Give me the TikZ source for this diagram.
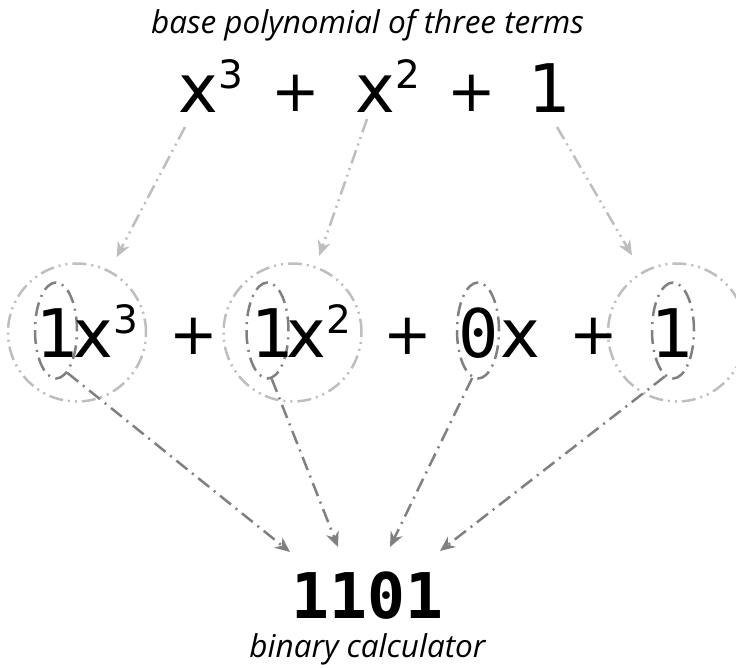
\documentclass[tikz,border=0pt]{standalone}
\usepackage{fontspec}
\setmainfont{Open Sans}
\newfontfamily\djs{DejaVu Sans}
\newfontfamily\djm{DejaVu Sans Mono}
\usetikzlibrary{arrows.meta,shapes.geometric}
\definecolor{lightg}{HTML}{BEBEBE}
\definecolor{darkg}{HTML}{808080}
\newcommand{\supdig}[1]{\kern1pt\raisebox{24pt}{\djs\fontsize{39}{41}\selectfont #1}}
\begin{document}
\begin{tikzpicture}[x=1pt,y=-1pt,
  big/.style={font=\djs\fontsize{67}{70}\selectfont, inner sep=0pt, anchor=base west},
  bigmono/.style={font=\djm\fontsize{67}{70}\selectfont, inner sep=0pt, anchor=base west},
  plus/.style={font=\djs\fontsize{58}{60}\selectfont, inner sep=0pt, anchor=center},
  lab/.style={font=\itshape\fontsize{31.5}{34}\selectfont, inner sep=0pt, anchor=base},
  ring/.style={circle, draw=lightg, line width=2.5pt, minimum size=138pt, inner sep=0pt,
    dash pattern=on 14pt off 5pt on 2pt off 5pt on 2pt off 5pt},
  coef/.style={ellipse, draw=darkg, line width=2.5pt, minimum width=42pt, minimum height=96pt, inner sep=0pt,
    dash pattern=on 14pt off 6pt on 2pt off 6pt},
  toparrow/.style={draw=lightg, line width=2.5pt,
    dash pattern=on 14pt off 5pt on 2pt off 5pt on 2pt off 5pt,
    -{Stealth[open, length=15pt, width=13pt]}},
  botarrow/.style={draw=darkg, line width=2.5pt,
    dash pattern=on 14pt off 6pt on 2pt off 6pt,
    -{Stealth[open, length=15pt, width=13pt]}}
]
\path[use as bounding box] (0,0) rectangle (736,667);

% circles and ellipses
\node[ring] (C3) at (77,332.5) {};
\node[ring] (C2) at (292.5,332.5) {};
\node[ring] (C0) at (677,332.5) {};
\node[coef] (E3) at (56,330.5) {};
\node[coef] (E2) at (267.5,330.5) {};
\node[coef] (E1) at (478,330.5) {};
\node[coef] (E0) at (673,330.5) {};

% top label and polynomial
\node[lab] (title) at (367.5,33) {base polynomial of three terms};
\node[big] (p3) at (178,112) {x\supdig{3}};
\node[plus] (pa) at (296,93) {+};
\node[big] (p2) at (355,112) {x\supdig{2}};
\node[plus] (pb) at (471.5,93) {+};
\node[big] (p0) at (528,112) {1};

% middle row
\node[big] (k3) at (36,357) {1};
\node[big] (m3) at (73,357) {x\supdig{3}};
\node[plus] (ma) at (193.5,336) {+};
\node[big] (k2) at (251,357) {1};
\node[big] (m2) at (286,357) {x\supdig{2}};
\node[plus] (mb) at (408,336) {+};
\node[bigmono] (k1) at (458.6,357) {0};
\node[big] (m1) at (500,357) {x};
\node[plus] (mc) at (594,336) {+};
\node[big] (k0) at (651,357) {1};

% bottom
\node[font=\djm\bfseries\fontsize{63}{66}\selectfont, inner sep=0pt, anchor=base] (res) at (367.5,618) {1101};
\node[lab] (sub) at (367.5,657) {binary calculator};

% arrow ends
\coordinate (s3) at (185,127);
\coordinate (s2) at (367,119);
\coordinate (s0) at (557,127);
\coordinate (b3) at (290,552);
\coordinate (b2) at (338,547);
\coordinate (b1) at (390,547);
\coordinate (b0) at (440,551);

% top arrows
\draw[toparrow, shorten >=15pt] (s3) -- (C3);
\draw[toparrow, shorten >=11pt] (s2) -- (C2);
\draw[toparrow, shorten >=19pt] (s0) -- (C0);

% bottom arrows
\draw[botarrow] (E3.-75) -- (b3);
\draw[botarrow] (E2.-85) -- (b2);
\draw[botarrow] (E1.-97) -- (b1);
\draw[botarrow] (E0.-100) -- (b0);
\end{tikzpicture}
\end{document}
